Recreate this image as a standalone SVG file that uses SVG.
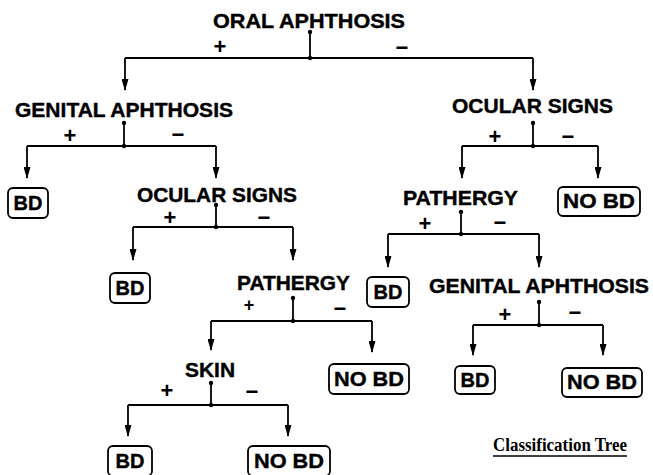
<svg xmlns="http://www.w3.org/2000/svg" width="653" height="475" viewBox="0 0 653 475">
<style>
.lbl{font-family:"Liberation Sans",Arial,sans-serif;font-weight:bold;font-size:20px;fill:#000;stroke:#000;stroke-width:0.4}
.sg{font-family:"Liberation Sans",Arial,sans-serif;font-weight:bold;font-size:22px;fill:#000;text-anchor:middle}
.bx{fill:#fff;stroke:#000;stroke-width:1.8}
.bt{font-family:"Liberation Sans",Arial,sans-serif;font-weight:bold;font-size:20px;fill:#000;stroke:#000;stroke-width:0.4;text-anchor:middle}
.ln{fill:none;stroke:#000;stroke-width:1.8}
.ar{fill:none;stroke:#000;stroke-width:1.8;marker-end:url(#ah)}
.dt{fill:#000}
.cap{font-family:"Liberation Serif","Times New Roman",serif;font-weight:bold;font-size:18px;fill:#000}
</style>
<defs>
<marker id="ah" markerUnits="userSpaceOnUse" markerWidth="12" markerHeight="7" viewBox="0 0 12 7" refX="11" refY="3.5" orient="auto">
<path d="M0,0 L12,3.5 L0,7 z" fill="#000"/>
</marker>
</defs>

<g id="connectors">
<circle class="dt" cx="310" cy="32" r="2.2"/><circle class="dt" cx="310" cy="58" r="2.2"/>
<path class="ln" d="M310,32 V58 M125,58 H533"/>
<path class="ar" d="M125,58 V90"/><path class="ar" d="M533,58 V90"/>
<circle class="dt" cx="124" cy="123" r="2.2"/><circle class="dt" cx="124" cy="146" r="2.2"/>
<path class="ln" d="M124,123 V146 M27,146 H216"/>
<path class="ar" d="M27,146 V178"/><path class="ar" d="M216,146 V178"/>
<circle class="dt" cx="216" cy="205" r="2.2"/><circle class="dt" cx="216" cy="227" r="2.2"/>
<path class="ln" d="M216,205 V227 M133,227 H293"/>
<path class="ar" d="M133,227 V260"/><path class="ar" d="M293,227 V260"/>
<circle class="dt" cx="293" cy="298" r="2.2"/><circle class="dt" cx="293" cy="321" r="2.2"/>
<path class="ln" d="M293,298 V321 M211,321 H372"/>
<path class="ar" d="M211,321 V350"/><path class="ar" d="M372,321 V352"/>
<circle class="dt" cx="211" cy="383" r="2.2"/><circle class="dt" cx="211" cy="405" r="2.2"/>
<path class="ln" d="M211,383 V405 M128,405 H288"/>
<path class="ar" d="M128,405 V436"/><path class="ar" d="M288,405 V436"/>
<circle class="dt" cx="533" cy="123" r="2.2"/><circle class="dt" cx="533" cy="146" r="2.2"/>
<path class="ln" d="M533,123 V146 M462,146 H598"/>
<path class="ar" d="M462,146 V178"/><path class="ar" d="M598,146 V178"/>
<circle class="dt" cx="461" cy="212" r="2.2"/><circle class="dt" cx="461" cy="234" r="2.2"/>
<path class="ln" d="M461,212 V234 M388,234 H539"/>
<path class="ar" d="M388,234 V267"/><path class="ar" d="M539,234 V267"/>
<circle class="dt" cx="539" cy="302" r="2.2"/><circle class="dt" cx="539" cy="325" r="2.2"/>
<path class="ln" d="M539,302 V325 M473,325 H603"/>
<path class="ar" d="M473,325 V355"/><path class="ar" d="M603,325 V355"/>
</g>

<g id="n-oral"><text class="lbl" x="213" y="28" textLength="192" lengthAdjust="spacingAndGlyphs">ORAL APHTHOSIS</text>
<text class="sg" x="220" y="54">+</text><text class="sg" x="402" y="55">−</text></g>

<g id="n-genital-l"><text class="lbl" x="15" y="117" textLength="218" lengthAdjust="spacingAndGlyphs">GENITAL APHTHOSIS</text>
<text class="sg" x="70" y="143">+</text><text class="sg" x="178" y="142">−</text></g>

<g id="n-bd-1"><rect class="bx" x="8" y="188" width="40" height="30" rx="5"/><text class="bt" x="28" y="210">BD</text></g>

<g id="n-ocular-l"><text class="lbl" x="137" y="202" textLength="160" lengthAdjust="spacingAndGlyphs">OCULAR SIGNS</text>
<text class="sg" x="170" y="225">+</text><text class="sg" x="264" y="225">−</text></g>

<g id="n-bd-2"><rect class="bx" x="110" y="273" width="40" height="30" rx="5"/><text class="bt" x="130" y="295">BD</text></g>

<g id="n-pathergy-l"><text class="lbl" x="237" y="290" textLength="113" lengthAdjust="spacingAndGlyphs">PATHERGY</text>
<text class="sg" x="249" y="311" style="font-size:18px">+</text><text class="sg" x="340" y="316">−</text></g>

<g id="n-nobd-1"><rect class="bx" x="329" y="364" width="80" height="30" rx="5"/><text class="bt" x="369" y="386" textLength="70" lengthAdjust="spacingAndGlyphs">NO BD</text></g>

<g id="n-skin"><text class="lbl" x="185" y="377" textLength="50" lengthAdjust="spacingAndGlyphs">SKIN</text>
<text class="sg" x="167" y="398">+</text><text class="sg" x="252" y="399">−</text></g>

<g id="n-bd-3"><rect class="bx" x="108" y="446" width="44" height="30" rx="5"/><text class="bt" x="130" y="468">BD</text></g>

<g id="n-nobd-2"><rect class="bx" x="248" y="446" width="82" height="30" rx="5"/><text class="bt" x="289" y="468" textLength="70" lengthAdjust="spacingAndGlyphs">NO BD</text></g>

<g id="n-ocular-r"><text class="lbl" x="452" y="113" textLength="161" lengthAdjust="spacingAndGlyphs">OCULAR SIGNS</text>
<text class="sg" x="495" y="144">+</text><text class="sg" x="568" y="144">−</text></g>

<g id="n-nobd-3"><rect class="bx" x="558" y="187" width="82" height="29" rx="5"/><text class="bt" x="599" y="208" textLength="72" lengthAdjust="spacingAndGlyphs">NO BD</text></g>

<g id="n-pathergy-r"><text class="lbl" x="403" y="205" textLength="115" lengthAdjust="spacingAndGlyphs">PATHERGY</text>
<text class="sg" x="425" y="231">+</text><text class="sg" x="500" y="230">−</text></g>

<g id="n-bd-4"><rect class="bx" x="367" y="277" width="42" height="30" rx="5"/><text class="bt" x="388" y="299">BD</text></g>

<g id="n-genital-r"><text class="lbl" x="429" y="293" textLength="220" lengthAdjust="spacingAndGlyphs">GENITAL APHTHOSIS</text>
<text class="sg" x="505" y="322">+</text><text class="sg" x="575" y="320">−</text></g>

<g id="n-bd-5"><rect class="bx" x="455" y="366" width="40" height="28" rx="5"/><text class="bt" x="475" y="387">BD</text></g>

<g id="n-nobd-4"><rect class="bx" x="562" y="368" width="80" height="29" rx="5"/><text class="bt" x="602" y="389" textLength="70" lengthAdjust="spacingAndGlyphs">NO BD</text></g>

<g id="caption"><text class="cap" x="493" y="451" textLength="134" lengthAdjust="spacingAndGlyphs">Classification Tree</text>
<line x1="493" y1="456" x2="627" y2="456" stroke="#000" stroke-width="1.6"/></g>
</svg>
